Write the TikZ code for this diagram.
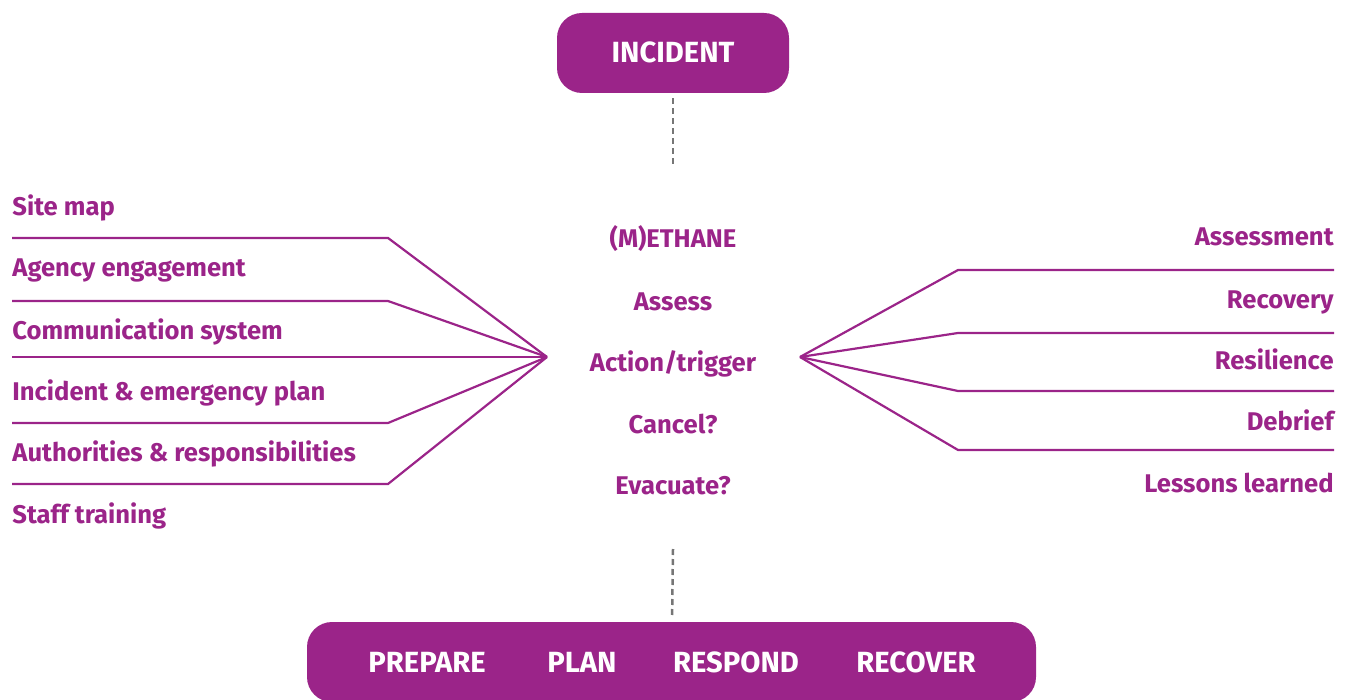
\documentclass[tikz,border=0pt]{standalone}
\usepackage{fontspec}
\setmainfont{Fira Sans}
\definecolor{incpurple}{RGB}{155,36,137}
\definecolor{dashgrey}{RGB}{118,118,118}

\begin{document}
\begin{tikzpicture}[x=0.5pt,y=-0.5pt,
    every node/.style={inner sep=0pt,text=incpurple,font=\bfseries\fontsize{12.8}{15}\selectfont},
    pill/.style={fill=incpurple,rounded corners=12.5pt,minimum height=40pt},
    pilltext/.style={text=white,font=\bfseries\fontsize{14.6}{17}\selectfont},
    link/.style={draw=dashgrey,line width=1.25pt,dash pattern=on 3pt off 2pt}]
    \useasboundingbox (0,0) rectangle (1348,700);
    % top and bottom boxes
    \node[pill,minimum width=116pt] (incident) at (673,53) {};
    \node[pilltext,anchor=base] (incidentlbl) at (673,63) {INCIDENT};
    \node[pill,minimum width=364.5pt] (phases) at (671.5,662) {};
    \node[pilltext,anchor=base] (prepare) at (427,672) {PREPARE};
    \node[pilltext,anchor=base] (plan) at (582,672) {PLAN};
    \node[pilltext,anchor=base] (respond) at (736,672) {RESPOND};
    \node[pilltext,anchor=base] (recover) at (916,672) {RECOVER};
    \coordinate (dtop) at (673,166);
    \coordinate (dbot) at (673,549);
    \draw[link,shorten <=2.5pt] (incident) -- (dtop);
    \draw[link,shorten >=2.5pt] (dbot) -- (phases);
    % middle column
    \node[anchor=base] (methane) at (673,248) {(M)ETHANE};
    \node[anchor=base] (assess) at (673,310) {Assess};
    \node[anchor=base] (trigger) at (673,371) {Action/trigger};
    \node[anchor=base] (cancel) at (673,433) {Cancel?};
    \node[anchor=base] (evacuate) at (673,494) {Evacuate?};
    % left side
    \node[anchor=base west] (sitemap) at (12,216) {Site map};
    \node[anchor=base west] (agency) at (12,277) {Agency engagement};
    \node[anchor=base west] (comms) at (12,339) {Communication system};
    \node[anchor=base west] (emplan) at (12,400) {Incident \& emergency plan};
    \node[anchor=base west] (authority) at (12,461) {Authorities \& responsibilities};
    \node[anchor=base west] (training) at (12,523) {Staff training};
    % right side
    \node[anchor=base east] (assessment) at (1334,246) {Assessment};
    \node[anchor=base east] (recovery) at (1334,308) {Recovery};
    \node[anchor=base east] (resilience) at (1334,369) {Resilience};
    \node[anchor=base east] (debrief) at (1334,430) {Debrief};
    \node[anchor=base east] (lessons) at (1334,492) {Lessons learned};
    \coordinate (lhub) at (547,357);
    \coordinate (rhub) at (800,357);
    \begin{scope}[every path/.style={draw=incpurple,line width=1.1pt,line join=miter}]
      \draw (12,238) -- (388,238) -- (lhub);
      \draw (12,301) -- (388,301) -- (lhub);
      \draw (12,357) -- (lhub);
      \draw (12,423) -- (388,423) -- (lhub);
      \draw (12,484) -- (388,484) -- (lhub);
      \draw (1334,270) -- (958,270) -- (rhub);
      \draw (1334,333) -- (958,333) -- (rhub);
      \draw (1334,391) -- (958,391) -- (rhub);
      \draw (1334,450) -- (958,450) -- (rhub);
    \end{scope}
\end{tikzpicture}
\end{document}
